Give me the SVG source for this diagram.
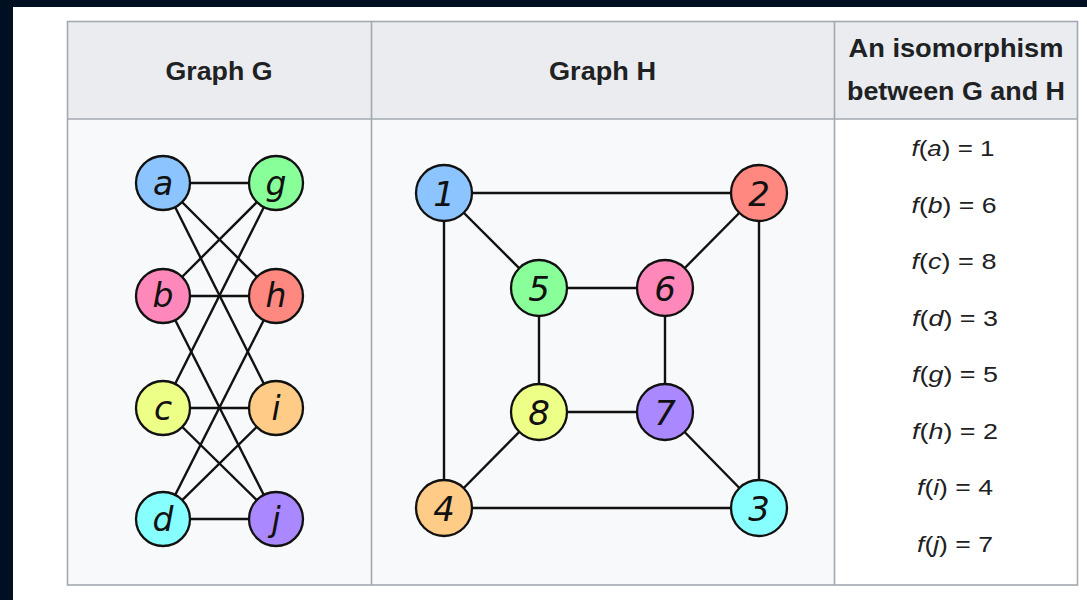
<svg xmlns="http://www.w3.org/2000/svg" width="1087" height="600" viewBox="0 0 1087 600">
<style>
.hd{font-family:"Liberation Sans",Arial,sans-serif;font-weight:bold;font-size:26px;fill:#202122;text-anchor:middle}
.bd{font-family:"Liberation Sans",Arial,sans-serif;font-size:22.5px;fill:#202122;text-anchor:middle}
.it{font-style:italic}
.edge{stroke:#111;stroke-width:2.4;fill:none}
.nd{stroke:#111;stroke-width:2.3}
.lb{font-family:"DejaVu Sans",sans-serif;font-style:italic;font-size:33px;fill:#111;text-anchor:middle}
.num{font-family:"DejaVu Sans",sans-serif;font-style:italic;font-size:34px;fill:#111;text-anchor:middle}
</style>
<rect x="0" y="0" width="1087" height="600" fill="#ffffff"/>
<rect x="0" y="0" width="1087" height="7" fill="#000f22"/>
<rect x="0" y="0" width="13" height="600" fill="#000f22"/>
<g id="table">
<rect x="67" y="21" width="1010.5" height="98" fill="#eaecf0"/>
<rect x="67" y="119" width="767" height="466" fill="#f8f9fa"/>
<rect x="834" y="119" width="243.5" height="466" fill="#ffffff"/>
<g stroke="#a2a9b1" stroke-width="1.6" fill="none">
<rect x="67.5" y="21.5" width="1010" height="563.5"/>
<line x1="67" y1="119" x2="1078" y2="119"/>
<line x1="371.5" y1="21" x2="371.5" y2="585"/>
<line x1="834.5" y1="21" x2="834.5" y2="585"/>
</g>
<text class="hd" x="219" y="80" textLength="107" lengthAdjust="spacingAndGlyphs">Graph G</text>
<text class="hd" x="602.5" y="80" textLength="107" lengthAdjust="spacingAndGlyphs">Graph H</text>
<text class="hd" x="956" y="57" textLength="215" lengthAdjust="spacingAndGlyphs">An isomorphism</text>
<text class="hd" x="956" y="100" textLength="218" lengthAdjust="spacingAndGlyphs">between G and H</text>
</g>
<g id="mapping">
<text class="bd" x="953" y="156" textLength="83" lengthAdjust="spacingAndGlyphs"><tspan class="it">f</tspan>(<tspan class="it">a</tspan>) = 1</text>
<text class="bd" x="954" y="212.5" textLength="85" lengthAdjust="spacingAndGlyphs"><tspan class="it">f</tspan>(<tspan class="it">b</tspan>) = 6</text>
<text class="bd" x="954" y="269" textLength="85" lengthAdjust="spacingAndGlyphs"><tspan class="it">f</tspan>(<tspan class="it">c</tspan>) = 8</text>
<text class="bd" x="955" y="325.5" textLength="86" lengthAdjust="spacingAndGlyphs"><tspan class="it">f</tspan>(<tspan class="it">d</tspan>) = 3</text>
<text class="bd" x="955" y="382" textLength="86" lengthAdjust="spacingAndGlyphs"><tspan class="it">f</tspan>(<tspan class="it">g</tspan>) = 5</text>
<text class="bd" x="955" y="438.5" textLength="86" lengthAdjust="spacingAndGlyphs"><tspan class="it">f</tspan>(<tspan class="it">h</tspan>) = 2</text>
<text class="bd" x="955" y="495" textLength="76" lengthAdjust="spacingAndGlyphs"><tspan class="it">f</tspan>(<tspan class="it">i</tspan>) = 4</text>
<text class="bd" x="955" y="551.5" textLength="76" lengthAdjust="spacingAndGlyphs"><tspan class="it">f</tspan>(<tspan class="it">j</tspan>) = 7</text>
</g>
<g id="connectors">
<g id="edges-G" class="edge">
<line x1="163" y1="183" x2="276" y2="183"/>
<line x1="163" y1="183" x2="276" y2="296"/>
<line x1="163" y1="183" x2="276" y2="408"/>
<line x1="163" y1="296" x2="276" y2="183"/>
<line x1="163" y1="296" x2="276" y2="296"/>
<line x1="163" y1="296" x2="276" y2="519"/>
<line x1="163" y1="408" x2="276" y2="183"/>
<line x1="163" y1="408" x2="276" y2="408"/>
<line x1="163" y1="408" x2="276" y2="519"/>
<line x1="163" y1="519" x2="276" y2="296"/>
<line x1="163" y1="519" x2="276" y2="408"/>
<line x1="163" y1="519" x2="276" y2="519"/>
</g>
<g id="edges-H" class="edge">
<line x1="444" y1="193" x2="759" y2="193"/>
<line x1="444" y1="193" x2="444" y2="508"/>
<line x1="444" y1="193" x2="539" y2="288"/>
<line x1="759" y1="193" x2="759" y2="508"/>
<line x1="759" y1="193" x2="665" y2="288"/>
<line x1="444" y1="508" x2="759" y2="508"/>
<line x1="759" y1="508" x2="665" y2="412"/>
<line x1="444" y1="508" x2="539" y2="412"/>
<line x1="539" y1="288" x2="665" y2="288"/>
<line x1="539" y1="288" x2="539" y2="412"/>
<line x1="665" y1="288" x2="665" y2="412"/>
<line x1="539" y1="412" x2="665" y2="412"/>
</g>
</g>
<g id="node-a"><circle class="nd" cx="163" cy="183" r="27" fill="#8cc4ff"/><text class="lb" x="163" y="195">a</text></g>
<g id="node-g"><circle class="nd" cx="276" cy="183" r="27" fill="#88ff99"/><text class="lb" x="276" y="195">g</text></g>
<g id="node-b"><circle class="nd" cx="163" cy="296" r="27" fill="#ff88bb"/><text class="lb" x="163" y="307">b</text></g>
<g id="node-h"><circle class="nd" cx="276" cy="296" r="27" fill="#ff8880"/><text class="lb" x="276" y="307">h</text></g>
<g id="node-c"><circle class="nd" cx="163" cy="408" r="27" fill="#eeff88"/><text class="lb" x="163" y="420">c</text></g>
<g id="node-i"><circle class="nd" cx="276" cy="408" r="27" fill="#ffcc88"/><text class="lb" x="276" y="420">i</text></g>
<g id="node-d"><circle class="nd" cx="163" cy="519" r="27" fill="#88ffff"/><text class="lb" x="163" y="531">d</text></g>
<g id="node-j"><circle class="nd" cx="276" cy="519" r="27" fill="#aa88ff"/><text class="lb" x="276" y="531">j</text></g>
<g id="node-1"><circle class="nd" cx="444" cy="193" r="28" fill="#8cc4ff"/><text class="num" x="444" y="206">1</text></g>
<g id="node-2"><circle class="nd" cx="759" cy="193" r="28" fill="#ff8880"/><text class="num" x="759" y="206">2</text></g>
<g id="node-5"><circle class="nd" cx="539" cy="288" r="28" fill="#88ff99"/><text class="num" x="539" y="301">5</text></g>
<g id="node-6"><circle class="nd" cx="665" cy="288" r="28" fill="#ff88bb"/><text class="num" x="665" y="301">6</text></g>
<g id="node-8"><circle class="nd" cx="539" cy="412" r="28" fill="#eeff88"/><text class="num" x="539" y="425">8</text></g>
<g id="node-7"><circle class="nd" cx="665" cy="412" r="28" fill="#aa88ff"/><text class="num" x="665" y="425">7</text></g>
<g id="node-4"><circle class="nd" cx="444" cy="508" r="28" fill="#ffcc88"/><text class="num" x="444" y="521">4</text></g>
<g id="node-3"><circle class="nd" cx="759" cy="508" r="28" fill="#88ffff"/><text class="num" x="759" y="521">3</text></g>
</svg>
